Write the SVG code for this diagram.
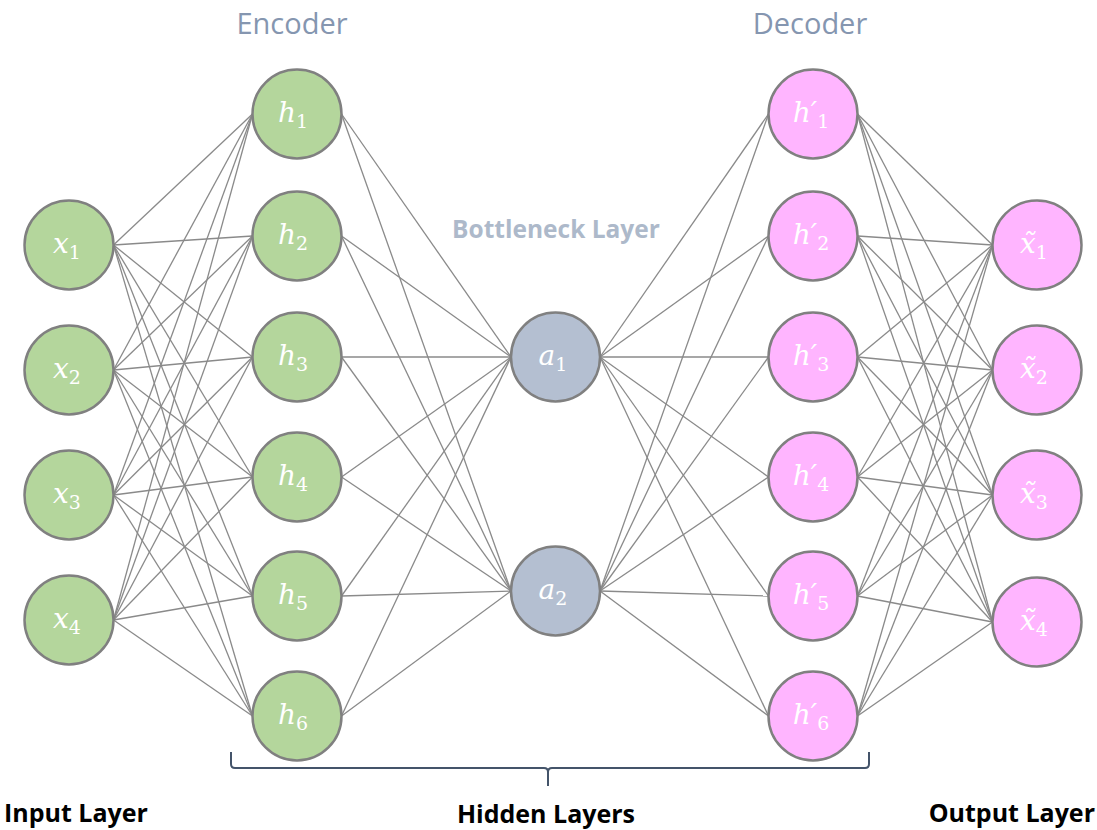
<svg xmlns="http://www.w3.org/2000/svg" width="1097" height="830" viewBox="0 0 1097 830">
<style>
.c line{stroke:#8a8a8a;stroke-width:1.3}
.n{stroke:#808080;stroke-width:2.5}
.g{fill:#b4d69c}
.p{fill:#ffb5ff}
.b{fill:#b4bfd1}
.lab{font-family:"DejaVu Serif","Liberation Serif",serif;fill:#ffffff;text-anchor:middle}
.v{font-style:italic;font-size:28px}
.s{font-size:19px}
.hdr{font-family:"Open Sans","Liberation Sans",sans-serif;font-size:29px;fill:#8596b0}
.bl{font-family:"Open Sans","Liberation Sans",sans-serif;font-size:24.5px;font-weight:bold;fill:#adb9ca}
.ll{font-family:"Open Sans","Liberation Sans",sans-serif;font-size:25px;font-weight:bold;fill:#000000}
</style>
<rect width="1097" height="830" fill="#ffffff"/>
<g id="connectors" class="c">
<line x1="113.5" y1="245" x2="252.5" y2="114"/><line x1="113.5" y1="245" x2="252.5" y2="236"/><line x1="113.5" y1="245" x2="252.5" y2="357"/><line x1="113.5" y1="245" x2="252.5" y2="477"/><line x1="113.5" y1="245" x2="252.5" y2="596"/><line x1="113.5" y1="245" x2="252.5" y2="716"/>
<line x1="113.5" y1="370" x2="252.5" y2="114"/><line x1="113.5" y1="370" x2="252.5" y2="236"/><line x1="113.5" y1="370" x2="252.5" y2="357"/><line x1="113.5" y1="370" x2="252.5" y2="477"/><line x1="113.5" y1="370" x2="252.5" y2="596"/><line x1="113.5" y1="370" x2="252.5" y2="716"/>
<line x1="113.5" y1="495" x2="252.5" y2="114"/><line x1="113.5" y1="495" x2="252.5" y2="236"/><line x1="113.5" y1="495" x2="252.5" y2="357"/><line x1="113.5" y1="495" x2="252.5" y2="477"/><line x1="113.5" y1="495" x2="252.5" y2="596"/><line x1="113.5" y1="495" x2="252.5" y2="716"/>
<line x1="113.5" y1="620" x2="252.5" y2="114"/><line x1="113.5" y1="620" x2="252.5" y2="236"/><line x1="113.5" y1="620" x2="252.5" y2="357"/><line x1="113.5" y1="620" x2="252.5" y2="477"/><line x1="113.5" y1="620" x2="252.5" y2="596"/><line x1="113.5" y1="620" x2="252.5" y2="716"/>
<line x1="341.5" y1="114" x2="511" y2="357"/><line x1="341.5" y1="114" x2="511" y2="591"/>
<line x1="341.5" y1="236" x2="511" y2="357"/><line x1="341.5" y1="236" x2="511" y2="591"/>
<line x1="341.5" y1="357" x2="511" y2="357"/><line x1="341.5" y1="357" x2="511" y2="591"/>
<line x1="341.5" y1="477" x2="511" y2="357"/><line x1="341.5" y1="477" x2="511" y2="591"/>
<line x1="341.5" y1="596" x2="511" y2="357"/><line x1="341.5" y1="596" x2="511" y2="591"/>
<line x1="341.5" y1="716" x2="511" y2="357"/><line x1="341.5" y1="716" x2="511" y2="591"/>
<line x1="600" y1="357" x2="768.5" y2="114"/><line x1="600" y1="357" x2="768.5" y2="236"/><line x1="600" y1="357" x2="768.5" y2="357"/><line x1="600" y1="357" x2="768.5" y2="477"/><line x1="600" y1="357" x2="768.5" y2="596"/><line x1="600" y1="357" x2="768.5" y2="716"/>
<line x1="600" y1="591" x2="768.5" y2="114"/><line x1="600" y1="591" x2="768.5" y2="236"/><line x1="600" y1="591" x2="768.5" y2="357"/><line x1="600" y1="591" x2="768.5" y2="477"/><line x1="600" y1="591" x2="768.5" y2="596"/><line x1="600" y1="591" x2="768.5" y2="716"/>
<line x1="857.5" y1="114" x2="992.5" y2="245"/><line x1="857.5" y1="114" x2="992.5" y2="370"/><line x1="857.5" y1="114" x2="992.5" y2="495"/><line x1="857.5" y1="114" x2="992.5" y2="622"/>
<line x1="857.5" y1="236" x2="992.5" y2="245"/><line x1="857.5" y1="236" x2="992.5" y2="370"/><line x1="857.5" y1="236" x2="992.5" y2="495"/><line x1="857.5" y1="236" x2="992.5" y2="622"/>
<line x1="857.5" y1="357" x2="992.5" y2="245"/><line x1="857.5" y1="357" x2="992.5" y2="370"/><line x1="857.5" y1="357" x2="992.5" y2="495"/><line x1="857.5" y1="357" x2="992.5" y2="622"/>
<line x1="857.5" y1="477" x2="992.5" y2="245"/><line x1="857.5" y1="477" x2="992.5" y2="370"/><line x1="857.5" y1="477" x2="992.5" y2="495"/><line x1="857.5" y1="477" x2="992.5" y2="622"/>
<line x1="857.5" y1="596" x2="992.5" y2="245"/><line x1="857.5" y1="596" x2="992.5" y2="370"/><line x1="857.5" y1="596" x2="992.5" y2="495"/><line x1="857.5" y1="596" x2="992.5" y2="622"/>
<line x1="857.5" y1="716" x2="992.5" y2="245"/><line x1="857.5" y1="716" x2="992.5" y2="370"/><line x1="857.5" y1="716" x2="992.5" y2="495"/><line x1="857.5" y1="716" x2="992.5" y2="622"/>
</g>
<g id="x1"><circle class="n g" cx="69" cy="245" r="44.5"/><text class="lab" x="67" y="253"><tspan class="v">x</tspan><tspan class="s" dy="6">1</tspan></text></g>
<g id="x2"><circle class="n g" cx="69" cy="370" r="44.5"/><text class="lab" x="67" y="378"><tspan class="v">x</tspan><tspan class="s" dy="6">2</tspan></text></g>
<g id="x3"><circle class="n g" cx="69" cy="495" r="44.5"/><text class="lab" x="67" y="503"><tspan class="v">x</tspan><tspan class="s" dy="6">3</tspan></text></g>
<g id="x4"><circle class="n g" cx="69" cy="620" r="44.5"/><text class="lab" x="67" y="628"><tspan class="v">x</tspan><tspan class="s" dy="6">4</tspan></text></g>
<g id="h1"><circle class="n g" cx="297" cy="114" r="44.5"/><text class="lab" x="293" y="122"><tspan class="v">h</tspan><tspan class="s" dy="6">1</tspan></text></g>
<g id="h2"><circle class="n g" cx="297" cy="236" r="44.5"/><text class="lab" x="293" y="244"><tspan class="v">h</tspan><tspan class="s" dy="6">2</tspan></text></g>
<g id="h3"><circle class="n g" cx="297" cy="357" r="44.5"/><text class="lab" x="293" y="365"><tspan class="v">h</tspan><tspan class="s" dy="6">3</tspan></text></g>
<g id="h4"><circle class="n g" cx="297" cy="477" r="44.5"/><text class="lab" x="293" y="485"><tspan class="v">h</tspan><tspan class="s" dy="6">4</tspan></text></g>
<g id="h5"><circle class="n g" cx="297" cy="596" r="44.5"/><text class="lab" x="293" y="604"><tspan class="v">h</tspan><tspan class="s" dy="6">5</tspan></text></g>
<g id="h6"><circle class="n g" cx="297" cy="716" r="44.5"/><text class="lab" x="293" y="724"><tspan class="v">h</tspan><tspan class="s" dy="6">6</tspan></text></g>
<g id="a1"><circle class="n b" cx="555.5" cy="357" r="44.5"/><text class="lab" x="553" y="365"><tspan class="v">a</tspan><tspan class="s" dy="6">1</tspan></text></g>
<g id="a2"><circle class="n b" cx="555.5" cy="591" r="44.5"/><text class="lab" x="553" y="599"><tspan class="v">a</tspan><tspan class="s" dy="6">2</tspan></text></g>
<g id="hp1"><circle class="n p" cx="813" cy="114" r="44.5"/><text class="lab" x="811" y="122"><tspan class="v">h′</tspan><tspan class="s" dy="6">1</tspan></text></g>
<g id="hp2"><circle class="n p" cx="813" cy="236" r="44.5"/><text class="lab" x="811" y="244"><tspan class="v">h′</tspan><tspan class="s" dy="6">2</tspan></text></g>
<g id="hp3"><circle class="n p" cx="813" cy="357" r="44.5"/><text class="lab" x="811" y="365"><tspan class="v">h′</tspan><tspan class="s" dy="6">3</tspan></text></g>
<g id="hp4"><circle class="n p" cx="813" cy="477" r="44.5"/><text class="lab" x="811" y="485"><tspan class="v">h′</tspan><tspan class="s" dy="6">4</tspan></text></g>
<g id="hp5"><circle class="n p" cx="813" cy="596" r="44.5"/><text class="lab" x="811" y="604"><tspan class="v">h′</tspan><tspan class="s" dy="6">5</tspan></text></g>
<g id="hp6"><circle class="n p" cx="813" cy="716" r="44.5"/><text class="lab" x="811" y="724"><tspan class="v">h′</tspan><tspan class="s" dy="6">6</tspan></text></g>
<g id="xt1"><circle class="n p" cx="1037" cy="245" r="44.5"/><text class="lab" x="1034" y="253"><tspan class="v">x̃</tspan><tspan class="s" dy="6">1</tspan></text></g>
<g id="xt2"><circle class="n p" cx="1037" cy="370" r="44.5"/><text class="lab" x="1034" y="378"><tspan class="v">x̃</tspan><tspan class="s" dy="6">2</tspan></text></g>
<g id="xt3"><circle class="n p" cx="1037" cy="495" r="44.5"/><text class="lab" x="1034" y="503"><tspan class="v">x̃</tspan><tspan class="s" dy="6">3</tspan></text></g>
<g id="xt4"><circle class="n p" cx="1037" cy="622" r="44.5"/><text class="lab" x="1034" y="630"><tspan class="v">x̃</tspan><tspan class="s" dy="6">4</tspan></text></g>
<g id="labels">
<text class="hdr" x="292" y="34" text-anchor="middle">Encoder</text>
<text class="hdr" x="810" y="34" text-anchor="middle">Decoder</text>
<text class="bl" x="556" y="238" text-anchor="middle">Bottleneck Layer</text>
<text class="ll" x="4" y="822">Input Layer</text>
<text class="ll" x="546" y="823" text-anchor="middle">Hidden Layers</text>
<text class="ll" x="1095" y="822" text-anchor="end">Output Layer</text>
</g>
<g id="brace"><path d="M231,752 L231,764 Q231,768 235,768 L544,768 Q548,768 548,772 L548,786 M548,772 Q548,768 552,768 L865,768 Q869,768 869,764 L869,752" fill="none" stroke="#44546a" stroke-width="2"/></g>
</svg>
